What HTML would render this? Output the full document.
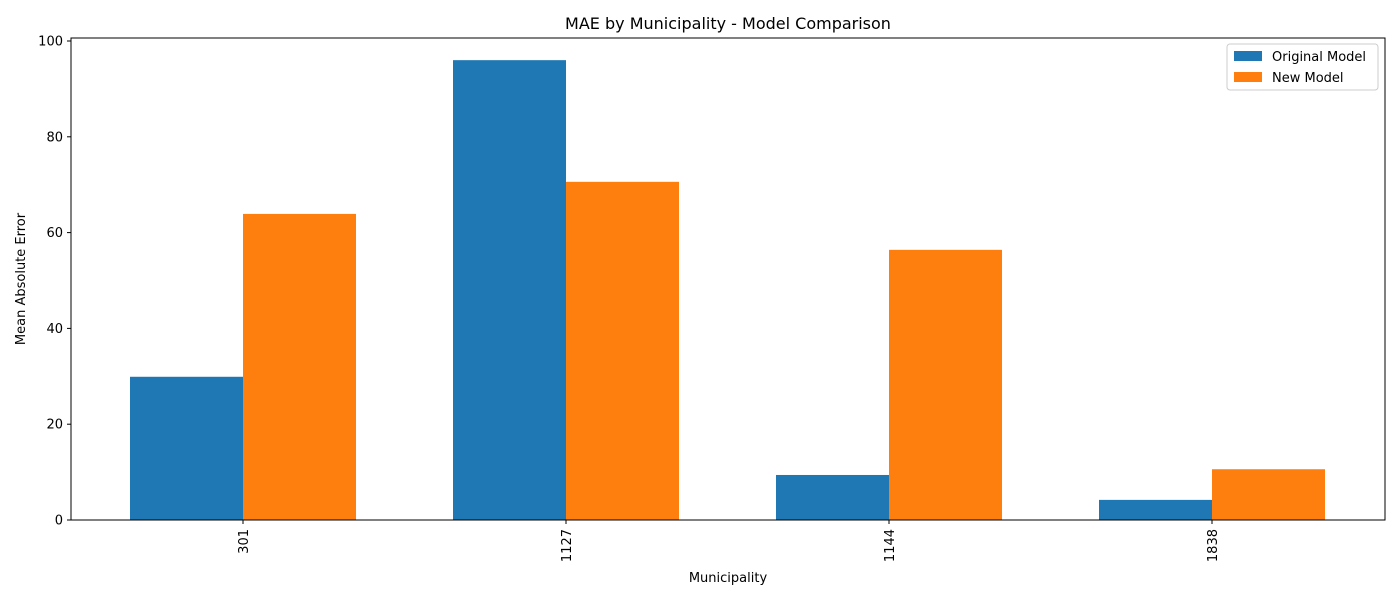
<!DOCTYPE html>
<html><head><meta charset="utf-8"><style>
body{margin:0;background:#fff;}
svg text{font-family:"DejaVu Sans","Liberation Sans",sans-serif;fill:#000;}
</style></head><body>
<svg id="chart" width="1400" height="600" xmlns="http://www.w3.org/2000/svg">
<rect width="1400" height="600" fill="#fff"/>
<text x="728" y="29" font-size="16" text-anchor="middle">MAE by Municipality - Model Comparison</text>
<g id="bars"></g>
<g id="yticks"></g>
<g id="xticks"></g>
<rect x="71" y="38" width="1314" height="482" fill="none" stroke="#000" stroke-width="1"/>
<text transform="translate(25,279) rotate(-90)" font-size="13" text-anchor="middle">Mean Absolute Error</text>
<text x="728" y="582" font-size="13" text-anchor="middle">Municipality</text>
<g>
<rect x="1227" y="44" width="151" height="46" rx="3" fill="#fff" stroke="#ccc"/>
<rect x="1234" y="51" width="28" height="10" fill="#1f77b4"/>
<text x="1272" y="61" font-size="13">Original Model</text>
<rect x="1234" y="72" width="28" height="10" fill="#ff7f0e"/>
<text x="1272" y="82" font-size="13">New Model</text>
</g>
</svg>
<script>
const categories=["301","1127","1144","1838"];
const originalValues=[29.9,96.0,9.4,4.2];
const newValues=[63.9,70.6,56.4,10.6];
const yTickValues=[0,20,40,60,80,100];
const NS="http://www.w3.org/2000/svg";
function y(v){return 520-v*4.79;}
function x(i){return 243+323*i;}
const bw=113;
const bars=document.getElementById('bars');
function mk(tag,attrs,parent){const e=document.createElementNS(NS,tag);for(const k in attrs)e.setAttribute(k,attrs[k]);parent.appendChild(e);return e;}
categories.forEach((c,i)=>{
  const a=mk('rect',{x:x(i)-bw,y:y(originalValues[i]),width:bw,height:520-y(originalValues[i]),fill:'#1f77b4'},bars);
  
  
  const b=mk('rect',{x:x(i),y:y(newValues[i]),width:bw,height:520-y(newValues[i]),fill:'#ff7f0e'},bars);
  
  
  const xt=document.getElementById('xticks');
  mk('line',{x1:x(i),x2:x(i),y1:520,y2:524,stroke:'#000'},xt);
  const t=mk('text',{transform:`translate(${x(i)+5},529) rotate(-90)`,'font-size':13,'text-anchor':'end'},xt);
  t.textContent=c;
  
  
});
const yt=document.getElementById('yticks');
yTickValues.forEach(v=>{
  mk('line',{x1:67,x2:71,y1:y(v),y2:y(v),stroke:'#000'},yt);
  const t=mk('text',{x:63,y:y(v)+4.5,'font-size':13,'text-anchor':'end'},yt);
  t.textContent=v;
  
  
});
</script>
</body></html>
